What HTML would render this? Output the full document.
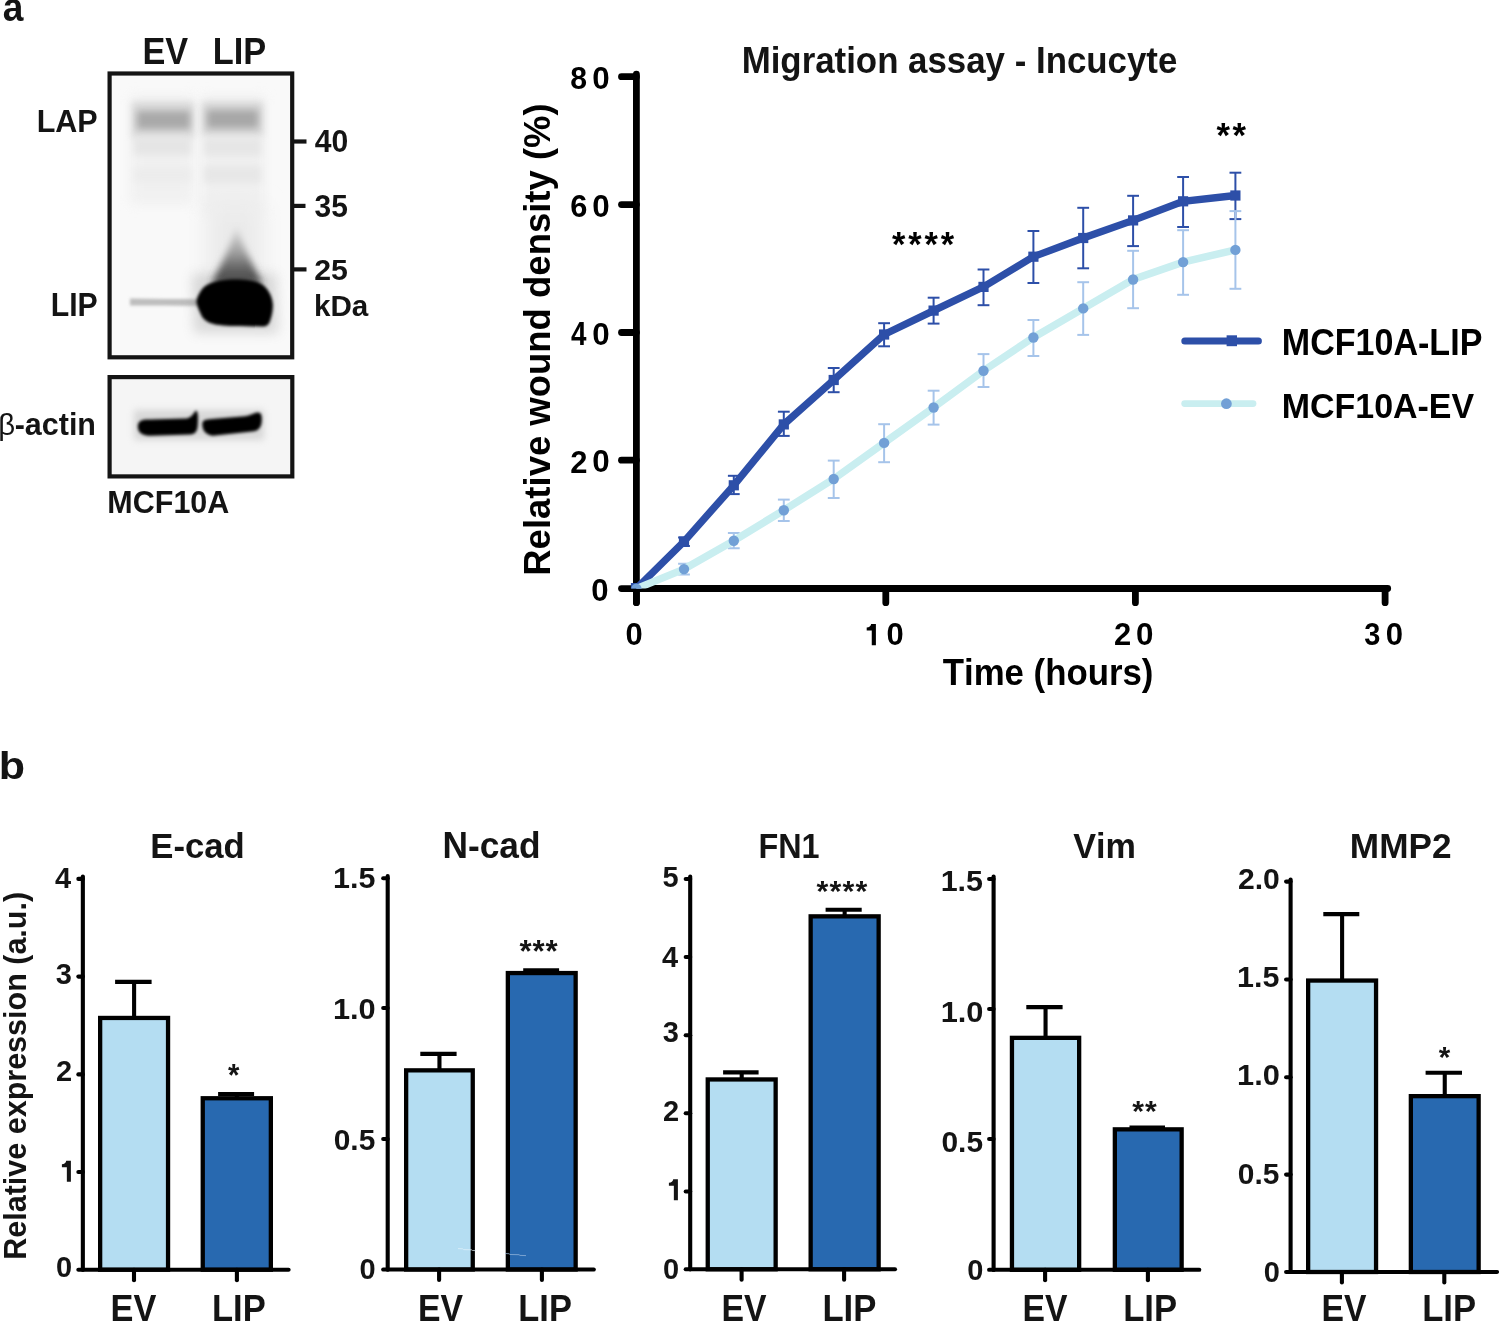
<!DOCTYPE html>
<html><head><meta charset="utf-8"><title>Figure</title>
<style>
html,body{margin:0;padding:0;background:#fff;}
body{width:1499px;height:1321px;overflow:hidden;}
svg{display:block;will-change:transform;}
svg text{font-family:"Liberation Sans", sans-serif;font-kerning:none;font-feature-settings:"kern" 0;}
</style></head>
<body>
<svg width="1499" height="1321" viewBox="0 0 1499 1321">
<rect width="1499" height="1321" fill="#fff"/>
<text transform="translate(2.71,21.40) scale(1,1.0961)" font-size="37.13" font-weight="bold" fill="#141414" >a</text>
<text transform="translate(142.51,63.50) scale(1,1.0813)" font-size="34.28" font-weight="bold" fill="#141414" >EV</text>
<text transform="translate(212.70,63.50) scale(1,1.0783)" font-size="34.37" font-weight="bold" fill="#141414" >LIP</text>
<text transform="translate(36.66,132.20) scale(1,1.0565)" font-size="30.54" font-weight="bold" fill="#141414" >LAP</text>
<text transform="translate(50.68,316.00) scale(1,1.0764)" font-size="30.25" font-weight="bold" fill="#141414" >LIP</text>
<text transform="translate(314.74,152.29) scale(1,1.0461)" font-size="30.11" font-weight="bold" fill="#141414" >40</text>
<text transform="translate(314.51,216.95) scale(1,1.0257)" font-size="29.96" font-weight="bold" fill="#141414" >35</text>
<text transform="translate(314.15,279.50) scale(1,1.0025)" font-size="30.29" font-weight="bold" fill="#141414" >25</text>
<text transform="translate(313.93,316.30) scale(1,0.9962)" font-size="29.64" font-weight="bold" fill="#141414" >kDa</text>
<text transform="translate(-1.74,434.58) scale(1,1.0042)" font-size="29.38" font-weight="normal" fill="#141414" >β</text>
<text transform="translate(14.71,435.00) scale(1,1.0558)" font-size="30.48" font-weight="bold" fill="#141414" >-actin</text>
<text transform="translate(107.36,513.40) scale(1,1.0529)" font-size="30.51" font-weight="bold" fill="#141414" >MCF10A</text>
<line x1="292" y1="141.5" x2="306.5" y2="141.5" stroke="#141414" stroke-width="4.2"/>
<line x1="292" y1="205.9" x2="305.5" y2="205.9" stroke="#141414" stroke-width="4.2"/>
<line x1="292" y1="269.4" x2="306.5" y2="269.4" stroke="#141414" stroke-width="4.2"/>

<defs>
 <filter id="b1" x="-50%" y="-50%" width="200%" height="200%"><feGaussianBlur stdDeviation="1.5"/></filter>
 <filter id="b2" x="-50%" y="-50%" width="200%" height="200%"><feGaussianBlur stdDeviation="2.2"/></filter>
 <filter id="b3" x="-50%" y="-50%" width="200%" height="200%"><feGaussianBlur stdDeviation="3.5"/></filter>
 <filter id="b6" x="-50%" y="-50%" width="200%" height="200%"><feGaussianBlur stdDeviation="6"/></filter>
 <filter id="b10" x="-50%" y="-50%" width="200%" height="200%"><feGaussianBlur stdDeviation="10"/></filter>
 <clipPath id="c1"><rect x="111.7" y="75.6" width="178.5" height="279.8"/></clipPath>
 <clipPath id="c2"><rect x="111.7" y="379.2" width="178.6" height="95.2"/></clipPath>
 <linearGradient id="smear" x1="0" y1="0" x2="0" y2="1">
  <stop offset="0" stop-color="#e0e0e0"/><stop offset="0.45" stop-color="#a0a0a0"/><stop offset="0.8" stop-color="#555555"/><stop offset="1" stop-color="#202020"/>
 </linearGradient>
</defs>
<g clip-path="url(#c1)">
 <rect x="110" y="74" width="182" height="284" fill="#f9f9f9"/>
 <rect x="130" y="95" width="64" height="110" fill="#efefef" filter="url(#b6)" opacity="0.8"/>
 <rect x="201" y="95" width="64" height="120" fill="#eeeeee" filter="url(#b6)" opacity="0.8"/>
 <rect x="132" y="102" width="62" height="36" fill="#d8d8d8" filter="url(#b3)"/>
 <rect x="202" y="102" width="61" height="34" fill="#d6d6d6" filter="url(#b3)"/>
 <rect x="137" y="111" width="53" height="18" fill="#a9a9a9" filter="url(#b3)"/>
 <rect x="207" y="110" width="51" height="18" fill="#a7a7a7" filter="url(#b3)"/>
 <rect x="134" y="137" width="57" height="18" fill="#e5e5e5" filter="url(#b3)"/>
 <rect x="204" y="138" width="57" height="18" fill="#e6e6e6" filter="url(#b3)"/>
 <rect x="134" y="168" width="57" height="14" fill="#ececec" filter="url(#b3)"/>
 <rect x="204" y="166" width="57" height="17" fill="#e7e7e7" filter="url(#b3)"/>
 <rect x="206" y="205" width="58" height="80" fill="#ebebeb" filter="url(#b10)"/>
 <path d="M236.5,226 C241,242 251,262 263,284 L211,284 C223,262 232,242 236.5,226 Z" fill="url(#smear)" filter="url(#b3)"/>
 <path d="M130,298.5 L165,299 L197,299 L197,306 L165,305.5 L130,305.5 Z" fill="#bdbdbd" filter="url(#b1)"/>
 <path d="M192,274 L276,274 L278,333 L194,333 Z" fill="#909090" filter="url(#b6)" opacity="0.3"/>
 <path d="M196.2,302 C197,297 200,291 204,287 C210,282 220,279.5 232,279.2 C245,279 256,280 263,285 C269,290 272.5,297 272.9,305 C273,311 271.5,317 270,321 C269,324.5 267,326.5 262,326.5 C252,326.5 242,326.2 234,326 C224,325.8 214,325 208.9,322.5 C204,320 202,317 201,314.5 C199,310 197,306 196.2,302 Z" fill="#000" filter="url(#b1)"/>
</g>
<rect x="109.6" y="73.5" width="182.6" height="283.8" fill="none" stroke="#141414" stroke-width="4.2"/>
<g clip-path="url(#c2)">
 <rect x="110" y="377" width="182" height="100" fill="#f5f5f5"/>
 <rect x="134" y="410" width="130" height="30" fill="#a0a0a0" filter="url(#b3)" opacity="0.35"/>
 <path d="M137.8,426.5 C137.8,420.5 142,419.2 150,419.4 L186,418.6 C191,418 193,414 196,410.5 C198.2,411.5 198.2,418 197.8,424 C197.5,431.5 195.5,434 190,434.4 L150,435.7 C142.5,435.9 137.8,432.5 137.8,426.5 Z" fill="#000" filter="url(#b1)"/>
 <path d="M202.3,424.5 C202.3,420 205,419.4 212,419 L245,416.2 C252,415.2 254,412.5 258,412.5 C261.2,412.5 261.8,415.5 261.8,419 C261.8,426.5 259.5,430 254,431.3 L215,435.6 C207.5,436.2 202.3,431.5 202.3,424.5 Z" fill="#000" filter="url(#b1)"/>
</g>
<rect x="109.6" y="377.1" width="182.7" height="99.3" fill="none" stroke="#141414" stroke-width="4.2"/>

<text transform="translate(741.67,72.50) scale(1,1.0384)" font-size="34.85" font-weight="bold" fill="#141414" >Migration assay - Incucyte</text>
<text transform="translate(549.80,573.30) rotate(-90) scale(1,0.9876)" x="-2.44" y="0" font-size="36.50" font-weight="bold" fill="#000">Relative wound density (%)</text>
<text transform="translate(942.71,685.10) scale(1,1.0484)" font-size="34.80" font-weight="bold" fill="#000" >Time (hours)</text>
<text transform="translate(1281.82,355.40) scale(1,1.0756)" font-size="34.05" font-weight="bold" fill="#000" >MCF10A-LIP</text>
<text transform="translate(1281.73,418.00) scale(1,1.0527)" font-size="33.97" font-weight="bold" fill="#000" >MCF10A-EV</text>
<text transform="translate(570.34,89.09) scale(1,1.0482)" font-size="30.18" font-weight="bold" fill="#000">8</text>
<text transform="translate(592.26,89.09) scale(1,1.0098)" font-size="31.33" font-weight="bold" fill="#000">0</text>
<text transform="translate(570.17,216.79) scale(1,1.0173)" font-size="30.82" font-weight="bold" fill="#000">6</text>
<text transform="translate(592.26,216.79) scale(1,1.0008)" font-size="31.33" font-weight="bold" fill="#000">0</text>
<text transform="translate(570.88,345.40) scale(1,1.1757)" font-size="27.82" font-weight="bold" fill="#000">4</text>
<text transform="translate(592.26,345.09) scale(1,1.0143)" font-size="31.33" font-weight="bold" fill="#000">0</text>
<text transform="translate(570.23,472.70) scale(1,1.0134)" font-size="30.95" font-weight="bold" fill="#000">2</text>
<text transform="translate(592.26,472.40) scale(1,0.9873)" font-size="31.33" font-weight="bold" fill="#000">0</text>
<text transform="translate(591.27,600.59) scale(1,1.0167)" font-size="31.12" font-weight="bold" fill="#000">0</text>
<text transform="translate(625.38,645.20) scale(1,1.0007)" font-size="30.91" font-weight="bold" fill="#000">0</text>
<path d="M871.12,623.90 L875.90,623.90 L875.90,645.20 L871.76,645.20 L871.76,630.50 L866.70,630.50 L866.70,627.41 C869.28,627.41 870.75,626.03 871.12,623.90 Z" fill="#000"/>
<text transform="translate(886.58,645.30) scale(1,1.0099)" font-size="30.91" font-weight="bold" fill="#000">0</text>
<text transform="translate(1114.03,645.30) scale(1,1.0088)" font-size="30.95" font-weight="bold" fill="#000">2</text>
<text transform="translate(1135.96,645.00) scale(1,0.9828)" font-size="31.33" font-weight="bold" fill="#000">0</text>
<text transform="translate(1364.34,645.15) scale(1,1.0850)" font-size="28.97" font-weight="bold" fill="#000">3</text>
<text transform="translate(1385.67,645.19) scale(1,1.0121)" font-size="31.12" font-weight="bold" fill="#000">0</text>
<text transform="translate(891.90,256.37) scale(1,1.0000)" font-size="34.40" font-weight="bold" fill="#000">*</text>
<text transform="translate(908.18,256.37) scale(1,1.0000)" font-size="34.40" font-weight="bold" fill="#000">*</text>
<text transform="translate(924.46,256.37) scale(1,1.0000)" font-size="34.40" font-weight="bold" fill="#000">*</text>
<text transform="translate(940.75,256.37) scale(1,1.0000)" font-size="34.40" font-weight="bold" fill="#000">*</text>
<text transform="translate(1216.50,146.55) scale(1,1.0000)" font-size="34.67" font-weight="bold" fill="#000">*</text>
<text transform="translate(1232.54,146.55) scale(1,1.0000)" font-size="34.67" font-weight="bold" fill="#000">*</text>
<line x1="636.4" y1="74.1" x2="636.4" y2="602.6" stroke="#000" stroke-width="6.8" stroke-linecap="round"/>
<line x1="621.5" y1="76.7" x2="636.4" y2="76.7" stroke="#000" stroke-width="6.8" stroke-linecap="round"/>
<line x1="621.5" y1="204.6" x2="636.4" y2="204.6" stroke="#000" stroke-width="6.8" stroke-linecap="round"/>
<line x1="621.5" y1="332.5" x2="636.4" y2="332.5" stroke="#000" stroke-width="6.8" stroke-linecap="round"/>
<line x1="621.5" y1="460.2" x2="636.4" y2="460.2" stroke="#000" stroke-width="6.8" stroke-linecap="round"/>
<line x1="621.5" y1="588.6" x2="636.4" y2="588.6" stroke="#000" stroke-width="6.8" stroke-linecap="round"/>
<line x1="636.4" y1="588.5" x2="1387.7" y2="588.5" stroke="#000" stroke-width="6.8" stroke-linecap="round"/>
<line x1="636.4" y1="588.5" x2="636.4" y2="602.7" stroke="#000" stroke-width="6.8" stroke-linecap="round"/>
<line x1="885.8" y1="588.5" x2="885.8" y2="602.7" stroke="#000" stroke-width="6.8" stroke-linecap="round"/>
<line x1="1135.4" y1="588.5" x2="1135.4" y2="602.7" stroke="#000" stroke-width="6.8" stroke-linecap="round"/>
<line x1="1385.1" y1="588.5" x2="1385.1" y2="602.7" stroke="#000" stroke-width="6.8" stroke-linecap="round"/>
<defs><clipPath id="dclip"><rect x="600" y="0" width="800" height="588.4"/></clipPath></defs><g clip-path="url(#dclip)">
<line x1="684.0" y1="537.5" x2="684.0" y2="546" stroke="#2d4fa8" stroke-width="2.0"/>
<line x1="678.1" y1="537.5" x2="689.9" y2="537.5" stroke="#2d4fa8" stroke-width="2.0"/>
<line x1="678.1" y1="546" x2="689.9" y2="546" stroke="#2d4fa8" stroke-width="2.0"/>
<line x1="733.8" y1="475.8" x2="733.8" y2="494.1" stroke="#2d4fa8" stroke-width="2.0"/>
<line x1="727.9" y1="475.8" x2="739.6999999999999" y2="475.8" stroke="#2d4fa8" stroke-width="2.0"/>
<line x1="727.9" y1="494.1" x2="739.6999999999999" y2="494.1" stroke="#2d4fa8" stroke-width="2.0"/>
<line x1="783.8" y1="411.7" x2="783.8" y2="435.9" stroke="#2d4fa8" stroke-width="2.0"/>
<line x1="777.9" y1="411.7" x2="789.6999999999999" y2="411.7" stroke="#2d4fa8" stroke-width="2.0"/>
<line x1="777.9" y1="435.9" x2="789.6999999999999" y2="435.9" stroke="#2d4fa8" stroke-width="2.0"/>
<line x1="833.7" y1="368.0" x2="833.7" y2="392.2" stroke="#2d4fa8" stroke-width="2.0"/>
<line x1="827.8000000000001" y1="368.0" x2="839.6" y2="368.0" stroke="#2d4fa8" stroke-width="2.0"/>
<line x1="827.8000000000001" y1="392.2" x2="839.6" y2="392.2" stroke="#2d4fa8" stroke-width="2.0"/>
<line x1="884.1" y1="323.2" x2="884.1" y2="346.3" stroke="#2d4fa8" stroke-width="2.0"/>
<line x1="878.2" y1="323.2" x2="890.0" y2="323.2" stroke="#2d4fa8" stroke-width="2.0"/>
<line x1="878.2" y1="346.3" x2="890.0" y2="346.3" stroke="#2d4fa8" stroke-width="2.0"/>
<line x1="933.6" y1="297.7" x2="933.6" y2="323.6" stroke="#2d4fa8" stroke-width="2.0"/>
<line x1="927.7" y1="297.7" x2="939.5" y2="297.7" stroke="#2d4fa8" stroke-width="2.0"/>
<line x1="927.7" y1="323.6" x2="939.5" y2="323.6" stroke="#2d4fa8" stroke-width="2.0"/>
<line x1="983.5" y1="269.5" x2="983.5" y2="305.2" stroke="#2d4fa8" stroke-width="2.0"/>
<line x1="977.6" y1="269.5" x2="989.4" y2="269.5" stroke="#2d4fa8" stroke-width="2.0"/>
<line x1="977.6" y1="305.2" x2="989.4" y2="305.2" stroke="#2d4fa8" stroke-width="2.0"/>
<line x1="1033.4" y1="231.0" x2="1033.4" y2="283.0" stroke="#2d4fa8" stroke-width="2.0"/>
<line x1="1027.5" y1="231.0" x2="1039.3000000000002" y2="231.0" stroke="#2d4fa8" stroke-width="2.0"/>
<line x1="1027.5" y1="283.0" x2="1039.3000000000002" y2="283.0" stroke="#2d4fa8" stroke-width="2.0"/>
<line x1="1083.2" y1="207.8" x2="1083.2" y2="268.3" stroke="#2d4fa8" stroke-width="2.0"/>
<line x1="1077.3" y1="207.8" x2="1089.1000000000001" y2="207.8" stroke="#2d4fa8" stroke-width="2.0"/>
<line x1="1077.3" y1="268.3" x2="1089.1000000000001" y2="268.3" stroke="#2d4fa8" stroke-width="2.0"/>
<line x1="1133.1" y1="195.8" x2="1133.1" y2="246.1" stroke="#2d4fa8" stroke-width="2.0"/>
<line x1="1127.1999999999998" y1="195.8" x2="1139.0" y2="195.8" stroke="#2d4fa8" stroke-width="2.0"/>
<line x1="1127.1999999999998" y1="246.1" x2="1139.0" y2="246.1" stroke="#2d4fa8" stroke-width="2.0"/>
<line x1="1183.1" y1="177.0" x2="1183.1" y2="227.0" stroke="#2d4fa8" stroke-width="2.0"/>
<line x1="1177.1999999999998" y1="177.0" x2="1189.0" y2="177.0" stroke="#2d4fa8" stroke-width="2.0"/>
<line x1="1177.1999999999998" y1="227.0" x2="1189.0" y2="227.0" stroke="#2d4fa8" stroke-width="2.0"/>
<line x1="1235.4" y1="172.7" x2="1235.4" y2="219.1" stroke="#2d4fa8" stroke-width="2.0"/>
<line x1="1229.5" y1="172.7" x2="1241.3000000000002" y2="172.7" stroke="#2d4fa8" stroke-width="2.0"/>
<line x1="1229.5" y1="219.1" x2="1241.3000000000002" y2="219.1" stroke="#2d4fa8" stroke-width="2.0"/>
<polyline points="636.4,588.6 684.0,541.6 733.8,485.3 783.8,424.4 833.7,380.0 884.1,334.5 933.6,310.6 983.5,286.9 1033.4,256.7 1083.2,238.0 1133.1,220.4 1183.1,201.3 1235.4,195.5" fill="none" stroke="#2d4fa8" stroke-width="7.3" stroke-linejoin="miter" stroke-linecap="butt"/>
<rect x="678.9" y="536.5" width="10.2" height="10.2" fill="#2d4fa8"/>
<rect x="728.6999999999999" y="480.2" width="10.2" height="10.2" fill="#2d4fa8"/>
<rect x="778.6999999999999" y="419.29999999999995" width="10.2" height="10.2" fill="#2d4fa8"/>
<rect x="828.6" y="374.9" width="10.2" height="10.2" fill="#2d4fa8"/>
<rect x="879.0" y="329.4" width="10.2" height="10.2" fill="#2d4fa8"/>
<rect x="928.5" y="305.5" width="10.2" height="10.2" fill="#2d4fa8"/>
<rect x="978.4" y="281.79999999999995" width="10.2" height="10.2" fill="#2d4fa8"/>
<rect x="1028.3000000000002" y="251.6" width="10.2" height="10.2" fill="#2d4fa8"/>
<rect x="1078.1000000000001" y="232.9" width="10.2" height="10.2" fill="#2d4fa8"/>
<rect x="1128.0" y="215.3" width="10.2" height="10.2" fill="#2d4fa8"/>
<rect x="1178.0" y="196.20000000000002" width="10.2" height="10.2" fill="#2d4fa8"/>
<rect x="1230.3000000000002" y="190.4" width="10.2" height="10.2" fill="#2d4fa8"/>
<rect x="630.9" y="583.0" width="10.2" height="10.2" fill="#2d4fa8"/>
<line x1="684.0" y1="563.8" x2="684.0" y2="574.4" stroke="#a6c4ea" stroke-width="2.0"/>
<line x1="678.1" y1="563.8" x2="689.9" y2="563.8" stroke="#a6c4ea" stroke-width="2.0"/>
<line x1="678.1" y1="574.4" x2="689.9" y2="574.4" stroke="#a6c4ea" stroke-width="2.0"/>
<line x1="733.8" y1="533.1" x2="733.8" y2="548.2" stroke="#a6c4ea" stroke-width="2.0"/>
<line x1="727.9" y1="533.1" x2="739.6999999999999" y2="533.1" stroke="#a6c4ea" stroke-width="2.0"/>
<line x1="727.9" y1="548.2" x2="739.6999999999999" y2="548.2" stroke="#a6c4ea" stroke-width="2.0"/>
<line x1="783.8" y1="499.6" x2="783.8" y2="520.9" stroke="#a6c4ea" stroke-width="2.0"/>
<line x1="777.9" y1="499.6" x2="789.6999999999999" y2="499.6" stroke="#a6c4ea" stroke-width="2.0"/>
<line x1="777.9" y1="520.9" x2="789.6999999999999" y2="520.9" stroke="#a6c4ea" stroke-width="2.0"/>
<line x1="833.7" y1="460.6" x2="833.7" y2="498.0" stroke="#a6c4ea" stroke-width="2.0"/>
<line x1="827.8000000000001" y1="460.6" x2="839.6" y2="460.6" stroke="#a6c4ea" stroke-width="2.0"/>
<line x1="827.8000000000001" y1="498.0" x2="839.6" y2="498.0" stroke="#a6c4ea" stroke-width="2.0"/>
<line x1="884.1" y1="424.2" x2="884.1" y2="462.2" stroke="#a6c4ea" stroke-width="2.0"/>
<line x1="878.2" y1="424.2" x2="890.0" y2="424.2" stroke="#a6c4ea" stroke-width="2.0"/>
<line x1="878.2" y1="462.2" x2="890.0" y2="462.2" stroke="#a6c4ea" stroke-width="2.0"/>
<line x1="933.6" y1="390.7" x2="933.6" y2="424.6" stroke="#a6c4ea" stroke-width="2.0"/>
<line x1="927.7" y1="390.7" x2="939.5" y2="390.7" stroke="#a6c4ea" stroke-width="2.0"/>
<line x1="927.7" y1="424.6" x2="939.5" y2="424.6" stroke="#a6c4ea" stroke-width="2.0"/>
<line x1="983.5" y1="354.1" x2="983.5" y2="387.0" stroke="#a6c4ea" stroke-width="2.0"/>
<line x1="977.6" y1="354.1" x2="989.4" y2="354.1" stroke="#a6c4ea" stroke-width="2.0"/>
<line x1="977.6" y1="387.0" x2="989.4" y2="387.0" stroke="#a6c4ea" stroke-width="2.0"/>
<line x1="1033.4" y1="320.0" x2="1033.4" y2="356.0" stroke="#a6c4ea" stroke-width="2.0"/>
<line x1="1027.5" y1="320.0" x2="1039.3000000000002" y2="320.0" stroke="#a6c4ea" stroke-width="2.0"/>
<line x1="1027.5" y1="356.0" x2="1039.3000000000002" y2="356.0" stroke="#a6c4ea" stroke-width="2.0"/>
<line x1="1083.2" y1="282.2" x2="1083.2" y2="334.9" stroke="#a6c4ea" stroke-width="2.0"/>
<line x1="1077.3" y1="282.2" x2="1089.1000000000001" y2="282.2" stroke="#a6c4ea" stroke-width="2.0"/>
<line x1="1077.3" y1="334.9" x2="1089.1000000000001" y2="334.9" stroke="#a6c4ea" stroke-width="2.0"/>
<line x1="1133.1" y1="250.8" x2="1133.1" y2="308.2" stroke="#a6c4ea" stroke-width="2.0"/>
<line x1="1127.1999999999998" y1="250.8" x2="1139.0" y2="250.8" stroke="#a6c4ea" stroke-width="2.0"/>
<line x1="1127.1999999999998" y1="308.2" x2="1139.0" y2="308.2" stroke="#a6c4ea" stroke-width="2.0"/>
<line x1="1183.1" y1="230.2" x2="1183.1" y2="294.8" stroke="#a6c4ea" stroke-width="2.0"/>
<line x1="1177.1999999999998" y1="230.2" x2="1189.0" y2="230.2" stroke="#a6c4ea" stroke-width="2.0"/>
<line x1="1177.1999999999998" y1="294.8" x2="1189.0" y2="294.8" stroke="#a6c4ea" stroke-width="2.0"/>
<line x1="1235.4" y1="211.1" x2="1235.4" y2="288.8" stroke="#a6c4ea" stroke-width="2.0"/>
<line x1="1229.5" y1="211.1" x2="1241.3000000000002" y2="211.1" stroke="#a6c4ea" stroke-width="2.0"/>
<line x1="1229.5" y1="288.8" x2="1241.3000000000002" y2="288.8" stroke="#a6c4ea" stroke-width="2.0"/>
<polyline points="636.4,588.6 684.0,569.1 733.8,540.7 783.8,510.2 833.7,479.0 884.1,442.9 933.6,407.5 983.5,370.7 1033.4,337.5 1083.2,308.4 1133.1,279.5 1183.1,262.1 1235.4,249.9" fill="none" stroke="#c9eef0" stroke-width="7.5" stroke-linejoin="miter" stroke-linecap="butt"/>
<circle cx="636.4" cy="588.6" r="5.2" fill="#72a0d6"/>
<circle cx="684.0" cy="569.1" r="5.2" fill="#72a0d6"/>
<circle cx="733.8" cy="540.7" r="5.2" fill="#72a0d6"/>
<circle cx="783.8" cy="510.2" r="5.2" fill="#72a0d6"/>
<circle cx="833.7" cy="479.0" r="5.2" fill="#72a0d6"/>
<circle cx="884.1" cy="442.9" r="5.2" fill="#72a0d6"/>
<circle cx="933.6" cy="407.5" r="5.2" fill="#72a0d6"/>
<circle cx="983.5" cy="370.7" r="5.2" fill="#72a0d6"/>
<circle cx="1033.4" cy="337.5" r="5.2" fill="#72a0d6"/>
<circle cx="1083.2" cy="308.4" r="5.2" fill="#72a0d6"/>
<circle cx="1133.1" cy="279.5" r="5.2" fill="#72a0d6"/>
<circle cx="1183.1" cy="262.1" r="5.2" fill="#72a0d6"/>
<circle cx="1235.4" cy="249.9" r="5.2" fill="#72a0d6"/>
</g>
<line x1="1184.8" y1="340.9" x2="1258.4" y2="340.9" stroke="#2d4fa8" stroke-width="7" stroke-linecap="round"/>
<rect x="1226.6" y="335.3" width="10.4" height="10.9" fill="#2d4fa8"/>
<line x1="1184.7" y1="403.6" x2="1253" y2="403.6" stroke="#c9eef0" stroke-width="6.8" stroke-linecap="round"/>
<circle cx="1226.4" cy="403.7" r="5.4" fill="#72a0d6"/>
<text transform="translate(-1.14,778.62) scale(1,0.9044)" font-size="43.06" font-weight="bold" fill="#141414" >b</text>
<text transform="translate(26.20,1257.70) rotate(-90) scale(1,1.0385)" x="-2.04" y="0" font-size="30.51" font-weight="bold" fill="#141414">Relative expression (a.u.)</text>
<text transform="translate(150.28,858.30) scale(1,1.0303)" font-size="34.71" font-weight="bold" fill="#141414" >E-cad</text>
<text transform="translate(54.93,887.61) scale(1,1.0374)" font-size="29.00" font-weight="bold" fill="#141414" >4</text>
<text transform="translate(55.82,984.41) scale(1,1.0374)" font-size="29.00" font-weight="bold" fill="#141414" >3</text>
<text transform="translate(55.93,1080.61) scale(1,1.0374)" font-size="29.00" font-weight="bold" fill="#141414" >2</text>
<path d="M66.22,1160.80 L70.90,1160.80 L70.90,1181.80 L66.85,1181.80 L66.85,1167.31 L61.90,1167.31 L61.90,1164.26 C64.42,1164.26 65.86,1162.90 66.22,1160.80 Z" fill="#141414"/>
<text transform="translate(55.96,1276.66) scale(1,1.0374)" font-size="29.00" font-weight="bold" fill="#141414" >0</text>
<rect x="100.15" y="1017.95" width="67.90" height="251.75" fill="#b4ddf2" stroke="#000" stroke-width="4.3"/>
<rect x="202.75" y="1098.25" width="68.10" height="171.45" fill="#2869b0" stroke="#000" stroke-width="4.3"/>
<line x1="134.10" y1="981.90" x2="134.10" y2="1017.80" stroke="#000" stroke-width="4.1"/>
<line x1="115.10" y1="981.90" x2="151.60" y2="981.90" stroke="#000" stroke-width="4.1" stroke-linecap="butt"/>
<line x1="236.80" y1="1094.00" x2="236.80" y2="1098.10" stroke="#000" stroke-width="4.1"/>
<line x1="218.10" y1="1094.00" x2="254.10" y2="1094.00" stroke="#000" stroke-width="4.1" stroke-linecap="butt"/>
<line x1="82.85" y1="876.5" x2="82.85" y2="1269.7" stroke="#000" stroke-width="4.1" stroke-linecap="round"/>
<line x1="78.35" y1="878.9" x2="82.85" y2="878.9" stroke="#000" stroke-width="4.1" stroke-linecap="round"/>
<line x1="78.35" y1="976.6" x2="82.85" y2="976.6" stroke="#000" stroke-width="4.1" stroke-linecap="round"/>
<line x1="78.35" y1="1074.4" x2="82.85" y2="1074.4" stroke="#000" stroke-width="4.1" stroke-linecap="round"/>
<line x1="78.35" y1="1172.0" x2="82.85" y2="1172.0" stroke="#000" stroke-width="4.1" stroke-linecap="round"/>
<line x1="78.35" y1="1269.7" x2="82.85" y2="1269.7" stroke="#000" stroke-width="4.1" stroke-linecap="round"/>
<line x1="82.85" y1="1269.7" x2="288.6" y2="1269.7" stroke="#000" stroke-width="4.1" stroke-linecap="round"/>
<line x1="134.0" y1="1269.7" x2="134.0" y2="1280.20" stroke="#000" stroke-width="4.1" stroke-linecap="round"/>
<line x1="236.9" y1="1269.7" x2="236.9" y2="1280.20" stroke="#000" stroke-width="4.1" stroke-linecap="round"/>
<text transform="translate(110.60,1320.60) scale(1,1.0576)" font-size="34.36" font-weight="bold" fill="#141414" >EV</text>
<text transform="translate(211.99,1320.60) scale(1,1.0508)" font-size="34.58" font-weight="bold" fill="#141414" >LIP</text>
<text transform="translate(228.01,1085.78) scale(1,1.0446)" font-size="29.33" font-weight="bold" fill="#141414">*</text>
<text transform="translate(442.44,858.30) scale(1,1.0251)" font-size="35.31" font-weight="bold" fill="#141414" >N-cad</text>
<text transform="translate(332.98,887.81) scale(1,0.9871)" font-size="30.48" font-weight="bold" fill="#141414" >1.5</text>
<text transform="translate(332.96,1018.51) scale(1,0.9771)" font-size="30.79" font-weight="bold" fill="#141414" >1.0</text>
<text transform="translate(333.72,1149.86) scale(1,1.0049)" font-size="29.94" font-weight="bold" fill="#141414" >0.5</text>
<text transform="translate(359.56,1279.26) scale(1,1.0374)" font-size="29.00" font-weight="bold" fill="#141414" >0</text>
<rect x="406.15" y="1070.35" width="66.60" height="199.15" fill="#b4ddf2" stroke="#000" stroke-width="4.3"/>
<rect x="507.85" y="973.05" width="67.80" height="296.45" fill="#2869b0" stroke="#000" stroke-width="4.3"/>
<line x1="439.45" y1="1053.90" x2="439.45" y2="1070.20" stroke="#000" stroke-width="4.1"/>
<line x1="420.30" y1="1053.90" x2="456.60" y2="1053.90" stroke="#000" stroke-width="4.1" stroke-linecap="butt"/>
<line x1="541.75" y1="970.20" x2="541.75" y2="972.90" stroke="#000" stroke-width="4.1"/>
<line x1="523.20" y1="970.20" x2="559.10" y2="970.20" stroke="#000" stroke-width="4.1" stroke-linecap="butt"/>
<line x1="387.7" y1="876.0" x2="387.7" y2="1269.5" stroke="#000" stroke-width="4.1" stroke-linecap="round"/>
<line x1="383.20" y1="878.2" x2="387.7" y2="878.2" stroke="#000" stroke-width="4.1" stroke-linecap="round"/>
<line x1="383.20" y1="1008.0" x2="387.7" y2="1008.0" stroke="#000" stroke-width="4.1" stroke-linecap="round"/>
<line x1="383.20" y1="1139.0" x2="387.7" y2="1139.0" stroke="#000" stroke-width="4.1" stroke-linecap="round"/>
<line x1="383.20" y1="1269.5" x2="387.7" y2="1269.5" stroke="#000" stroke-width="4.1" stroke-linecap="round"/>
<line x1="387.7" y1="1269.5" x2="593.8" y2="1269.5" stroke="#000" stroke-width="4.1" stroke-linecap="round"/>
<line x1="439.1" y1="1269.5" x2="439.1" y2="1280.00" stroke="#000" stroke-width="4.1" stroke-linecap="round"/>
<line x1="541.9" y1="1269.5" x2="541.9" y2="1280.00" stroke="#000" stroke-width="4.1" stroke-linecap="round"/>
<text transform="translate(418.04,1320.60) scale(1,1.0750)" font-size="33.80" font-weight="bold" fill="#141414" >EV</text>
<text transform="translate(518.30,1320.60) scale(1,1.0550)" font-size="34.44" font-weight="bold" fill="#141414" >LIP</text>
<text transform="translate(519.41,962.45) scale(1,1.0000)" font-size="31.18" font-weight="bold" fill="#141414">*</text>
<text transform="translate(532.45,962.45) scale(1,1.0000)" font-size="31.18" font-weight="bold" fill="#141414">*</text>
<text transform="translate(545.50,962.45) scale(1,1.0000)" font-size="31.18" font-weight="bold" fill="#141414">*</text>
<text transform="translate(758.43,858.20) scale(1,1.0909)" font-size="32.38" font-weight="bold" fill="#141414" >FN1</text>
<text transform="translate(662.58,886.76) scale(1,1.0374)" font-size="29.00" font-weight="bold" fill="#141414" >5</text>
<text transform="translate(661.93,967.36) scale(1,1.0374)" font-size="29.00" font-weight="bold" fill="#141414" >4</text>
<text transform="translate(662.82,1042.06) scale(1,1.0374)" font-size="29.00" font-weight="bold" fill="#141414" >3</text>
<text transform="translate(662.93,1121.46) scale(1,1.0374)" font-size="29.00" font-weight="bold" fill="#141414" >2</text>
<path d="M673.22,1179.30 L677.90,1179.30 L677.90,1200.30 L673.85,1200.30 L673.85,1185.81 L668.90,1185.81 L668.90,1182.76 C671.42,1182.76 672.86,1181.40 673.22,1179.30 Z" fill="#141414"/>
<text transform="translate(662.96,1279.36) scale(1,1.0374)" font-size="29.00" font-weight="bold" fill="#141414" >0</text>
<rect x="707.75" y="1079.45" width="67.90" height="189.85" fill="#b4ddf2" stroke="#000" stroke-width="4.3"/>
<rect x="810.65" y="916.35" width="68.00" height="352.95" fill="#2869b0" stroke="#000" stroke-width="4.3"/>
<line x1="741.70" y1="1072.40" x2="741.70" y2="1079.30" stroke="#000" stroke-width="4.1"/>
<line x1="723.10" y1="1072.40" x2="758.60" y2="1072.40" stroke="#000" stroke-width="4.1" stroke-linecap="butt"/>
<line x1="844.65" y1="909.70" x2="844.65" y2="916.20" stroke="#000" stroke-width="4.1"/>
<line x1="825.60" y1="909.70" x2="861.70" y2="909.70" stroke="#000" stroke-width="4.1" stroke-linecap="butt"/>
<line x1="690.2" y1="876.5" x2="690.2" y2="1269.3" stroke="#000" stroke-width="4.1" stroke-linecap="round"/>
<line x1="685.70" y1="879.0" x2="690.2" y2="879.0" stroke="#000" stroke-width="4.1" stroke-linecap="round"/>
<line x1="685.70" y1="957.0" x2="690.2" y2="957.0" stroke="#000" stroke-width="4.1" stroke-linecap="round"/>
<line x1="685.70" y1="1035.2" x2="690.2" y2="1035.2" stroke="#000" stroke-width="4.1" stroke-linecap="round"/>
<line x1="685.70" y1="1113.3" x2="690.2" y2="1113.3" stroke="#000" stroke-width="4.1" stroke-linecap="round"/>
<line x1="685.70" y1="1191.5" x2="690.2" y2="1191.5" stroke="#000" stroke-width="4.1" stroke-linecap="round"/>
<line x1="685.70" y1="1269.3" x2="690.2" y2="1269.3" stroke="#000" stroke-width="4.1" stroke-linecap="round"/>
<line x1="690.2" y1="1269.3" x2="895.0" y2="1269.3" stroke="#000" stroke-width="4.1" stroke-linecap="round"/>
<line x1="741.6" y1="1269.3" x2="741.6" y2="1279.80" stroke="#000" stroke-width="4.1" stroke-linecap="round"/>
<line x1="844.1" y1="1269.3" x2="844.1" y2="1279.80" stroke="#000" stroke-width="4.1" stroke-linecap="round"/>
<text transform="translate(721.54,1320.60) scale(1,1.0750)" font-size="33.80" font-weight="bold" fill="#141414" >EV</text>
<text transform="translate(822.38,1320.60) scale(1,1.0467)" font-size="34.72" font-weight="bold" fill="#141414" >LIP</text>
<text transform="translate(816.51,900.69) scale(1,1.0000)" font-size="30.37" font-weight="bold" fill="#141414">*</text>
<text transform="translate(829.48,900.69) scale(1,1.0000)" font-size="30.37" font-weight="bold" fill="#141414">*</text>
<text transform="translate(842.44,900.69) scale(1,1.0000)" font-size="30.37" font-weight="bold" fill="#141414">*</text>
<text transform="translate(855.41,900.69) scale(1,1.0000)" font-size="30.37" font-weight="bold" fill="#141414">*</text>
<text transform="translate(1073.27,858.20) scale(1,1.0449)" font-size="34.22" font-weight="bold" fill="#141414" >Vim</text>
<text transform="translate(940.68,891.36) scale(1,0.9871)" font-size="30.48" font-weight="bold" fill="#141414" >1.5</text>
<text transform="translate(940.66,1021.61) scale(1,0.9771)" font-size="30.79" font-weight="bold" fill="#141414" >1.0</text>
<text transform="translate(941.42,1151.81) scale(1,1.0049)" font-size="29.94" font-weight="bold" fill="#141414" >0.5</text>
<text transform="translate(967.26,1280.36) scale(1,1.0374)" font-size="29.00" font-weight="bold" fill="#141414" >0</text>
<rect x="1011.95" y="1037.85" width="67.20" height="231.95" fill="#b4ddf2" stroke="#000" stroke-width="4.3"/>
<rect x="1114.85" y="1129.35" width="66.80" height="140.45" fill="#2869b0" stroke="#000" stroke-width="4.3"/>
<line x1="1045.55" y1="1007.10" x2="1045.55" y2="1037.70" stroke="#000" stroke-width="4.1"/>
<line x1="1026.30" y1="1007.10" x2="1062.60" y2="1007.10" stroke="#000" stroke-width="4.1" stroke-linecap="butt"/>
<line x1="1148.25" y1="1127.60" x2="1148.25" y2="1129.20" stroke="#000" stroke-width="4.1"/>
<line x1="1129.50" y1="1127.60" x2="1165.00" y2="1127.60" stroke="#000" stroke-width="4.1" stroke-linecap="butt"/>
<line x1="993.6" y1="876.5" x2="993.6" y2="1269.8" stroke="#000" stroke-width="4.1" stroke-linecap="round"/>
<line x1="989.10" y1="879.0" x2="993.6" y2="879.0" stroke="#000" stroke-width="4.1" stroke-linecap="round"/>
<line x1="989.10" y1="1009.0" x2="993.6" y2="1009.0" stroke="#000" stroke-width="4.1" stroke-linecap="round"/>
<line x1="989.10" y1="1139.0" x2="993.6" y2="1139.0" stroke="#000" stroke-width="4.1" stroke-linecap="round"/>
<line x1="989.10" y1="1269.8" x2="993.6" y2="1269.8" stroke="#000" stroke-width="4.1" stroke-linecap="round"/>
<line x1="993.6" y1="1269.8" x2="1199.3" y2="1269.8" stroke="#000" stroke-width="4.1" stroke-linecap="round"/>
<line x1="1045.1" y1="1269.8" x2="1045.1" y2="1280.30" stroke="#000" stroke-width="4.1" stroke-linecap="round"/>
<line x1="1147.9" y1="1269.8" x2="1147.9" y2="1280.30" stroke="#000" stroke-width="4.1" stroke-linecap="round"/>
<text transform="translate(1022.54,1320.60) scale(1,1.0775)" font-size="33.72" font-weight="bold" fill="#141414" >EV</text>
<text transform="translate(1123.18,1320.60) scale(1,1.0487)" font-size="34.65" font-weight="bold" fill="#141414" >LIP</text>
<text transform="translate(1132.31,1121.21) scale(1,1.0000)" font-size="30.10" font-weight="bold" fill="#141414">*</text>
<text transform="translate(1145.01,1121.21) scale(1,1.0000)" font-size="30.10" font-weight="bold" fill="#141414">*</text>
<text transform="translate(1349.84,858.40) scale(1,1.0151)" font-size="35.22" font-weight="bold" fill="#141414" >MMP2</text>
<text transform="translate(1237.96,888.91) scale(1,0.9986)" font-size="30.13" font-weight="bold" fill="#141414" >2.0</text>
<text transform="translate(1237.08,987.31) scale(1,0.9871)" font-size="30.48" font-weight="bold" fill="#141414" >1.5</text>
<text transform="translate(1237.06,1084.71) scale(1,0.9771)" font-size="30.79" font-weight="bold" fill="#141414" >1.0</text>
<text transform="translate(1237.82,1184.46) scale(1,1.0049)" font-size="29.94" font-weight="bold" fill="#141414" >0.5</text>
<text transform="translate(1263.66,1282.26) scale(1,1.0374)" font-size="29.00" font-weight="bold" fill="#141414" >0</text>
<rect x="1308.15" y="980.55" width="67.90" height="291.45" fill="#b4ddf2" stroke="#000" stroke-width="4.3"/>
<rect x="1410.85" y="1096.15" width="67.80" height="175.85" fill="#2869b0" stroke="#000" stroke-width="4.3"/>
<line x1="1342.10" y1="914.10" x2="1342.10" y2="980.40" stroke="#000" stroke-width="4.1"/>
<line x1="1323.30" y1="914.10" x2="1359.30" y2="914.10" stroke="#000" stroke-width="4.1" stroke-linecap="butt"/>
<line x1="1444.75" y1="1072.80" x2="1444.75" y2="1096.00" stroke="#000" stroke-width="4.1"/>
<line x1="1425.60" y1="1072.80" x2="1462.00" y2="1072.80" stroke="#000" stroke-width="4.1" stroke-linecap="butt"/>
<line x1="1290.6" y1="879.5" x2="1290.6" y2="1272.0" stroke="#000" stroke-width="4.1" stroke-linecap="round"/>
<line x1="1286.10" y1="881.6" x2="1290.6" y2="881.6" stroke="#000" stroke-width="4.1" stroke-linecap="round"/>
<line x1="1286.10" y1="979.5" x2="1290.6" y2="979.5" stroke="#000" stroke-width="4.1" stroke-linecap="round"/>
<line x1="1286.10" y1="1077.2" x2="1290.6" y2="1077.2" stroke="#000" stroke-width="4.1" stroke-linecap="round"/>
<line x1="1286.10" y1="1174.6" x2="1290.6" y2="1174.6" stroke="#000" stroke-width="4.1" stroke-linecap="round"/>
<line x1="1286.10" y1="1272.0" x2="1290.6" y2="1272.0" stroke="#000" stroke-width="4.1" stroke-linecap="round"/>
<line x1="1290.6" y1="1272.0" x2="1497.0" y2="1272.0" stroke="#000" stroke-width="4.1" stroke-linecap="round"/>
<line x1="1341.9" y1="1272.0" x2="1341.9" y2="1282.50" stroke="#000" stroke-width="4.1" stroke-linecap="round"/>
<line x1="1444.3" y1="1272.0" x2="1444.3" y2="1282.50" stroke="#000" stroke-width="4.1" stroke-linecap="round"/>
<text transform="translate(1321.44,1320.60) scale(1,1.0775)" font-size="33.72" font-weight="bold" fill="#141414" >EV</text>
<text transform="translate(1422.18,1320.60) scale(1,1.0487)" font-size="34.65" font-weight="bold" fill="#141414" >LIP</text>
<text transform="translate(1438.71,1067.27) scale(1,0.9809)" font-size="29.59" font-weight="bold" fill="#141414">*</text>
<polyline points="458,1248.6 462.5,1248.8 463.5,1249.6 471.5,1249.8 472.5,1250.5 476,1250.6" fill="none" stroke="#e4f2fa" stroke-width="0.7"/>
<polyline points="505,1253.5 509,1253.7 510,1254.5 519,1254.7 520,1255.4 526,1255.6" fill="none" stroke="#9cbbe0" stroke-width="0.7"/>
</svg>
</body></html>
